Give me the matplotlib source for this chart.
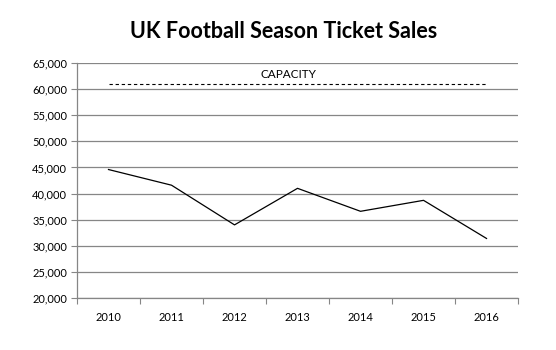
import numpy as np
import matplotlib.pyplot as plt
from matplotlib.ticker import FuncFormatter

years = ['2010', '2011', '2012', '2013', '2014', '2015', '2016']
sales = [44600, 41600, 34000, 41000, 36600, 38700, 31400]
capacity = 61000

plt.rcParams['font.family'] = ['Lato', 'DejaVu Sans']

fig = plt.figure(figsize=(5.56, 3.5), dpi=100)
ax = fig.add_axes([0.1385, 0.1486, 0.7932, 0.6714])

x = np.arange(len(years))
ax.plot(x, sales, color='black', linewidth=0.9)
ax.plot(x, [capacity] * len(years), color='black', linewidth=0.8, linestyle=(0, (3, 2.5)))
ax.text(2.85, capacity + 700, 'CAPACITY', ha='center', va='bottom', fontsize=8.5)

ax.set_xlim(-0.5, len(years) - 0.5)
ax.set_ylim(20000, 65000)
ax.set_yticks(np.arange(20000, 65001, 5000))
ax.yaxis.set_major_formatter(FuncFormatter(lambda v, p: '{:,.0f}'.format(v)))
ax.grid(axis='y', color='#868686', linewidth=0.9)
ax.set_axisbelow(True)

ax.set_xticks(np.arange(-0.5, len(years), 1.0))
ax.set_xticklabels([])
ax.set_xticks(x, minor=True)
ax.set_xticklabels(years, minor=True)
ax.tick_params(axis='x', which='major', length=4, color='#868686', direction='out')
ax.tick_params(axis='x', which='minor', length=0, pad=10, labelsize=8)
ax.tick_params(axis='y', length=4, color='#868686', labelsize=8, pad=3)

for s in ['top', 'right']:
    ax.spines[s].set_visible(False)
for s in ['left', 'bottom']:
    ax.spines[s].set_color('#868686')
    ax.spines[s].set_linewidth(0.9)

fig.text(0.51, 0.91, 'UK Football Season Ticket Sales', ha='center', va='center',
         fontsize=15.5, fontweight='bold')

fig.savefig('out.png', dpi=100, facecolor='white')
